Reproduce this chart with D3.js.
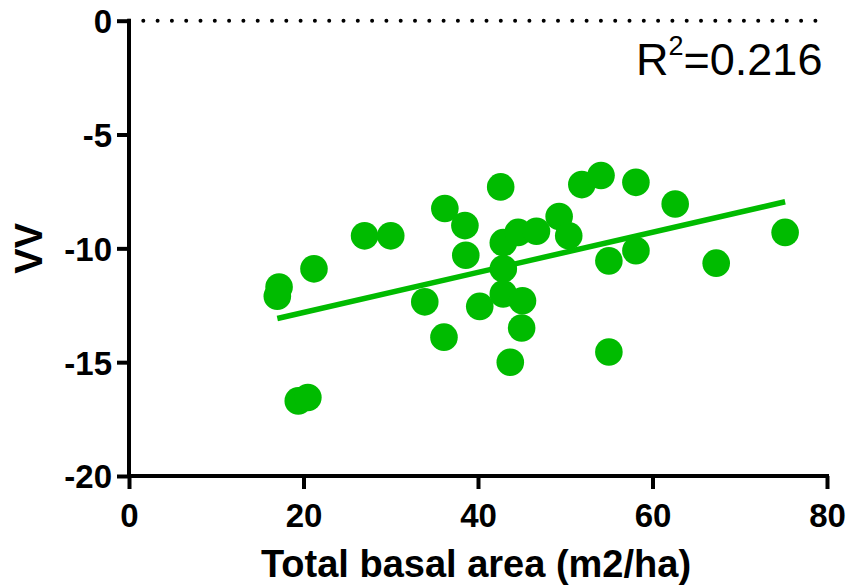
<!DOCTYPE html>
<html>
<head>
<meta charset="utf-8">
<script src="https://cdn.jsdelivr.net/npm/d3@7"></script>
<style>
  html, body { margin: 0; padding: 0; background: #fff; }
  svg { display: block; }
  text { font-family: Arial, "Liberation Sans", Helvetica, sans-serif; }
</style>
</head>
<body>
<svg id="chart" width="852" height="588"></svg>
<script>
// ---- data ----
const basalArea = [17.2, 17.0, 21.2, 27.0, 30.0, 36.2, 38.5, 38.6, 42.6, 33.9, 36.1,
                   40.2, 42.9, 42.9, 42.9, 45.1, 45.0, 43.7, 44.6, 46.7, 49.3, 50.4,
                   19.4, 20.5, 51.9, 54.1, 58.1, 62.6, 75.2, 58.1, 55.0, 67.3, 55.0];
const vvValues  = [-11.7, -12.1, -10.9, -9.45, -9.45, -8.25, -9.0, -10.3, -7.3, -12.35, -13.9,
                   -12.55, -9.75, -10.9, -12.0, -12.3, -13.5, -15.0, -9.3, -9.25, -8.6, -9.45,
                   -16.7, -16.55, -7.2, -6.8, -7.1, -8.05, -9.3, -10.1, -10.55, -10.65, -14.55];
// fitted regression line as drawn: [slope, intercept]
const fitParams = [0.0881, -14.58];
const xTicks = [0, 20, 40, 60, 80];
const yTicks = [0, -5, -10, -15, -20];
const r2Label = "0.216";
const xTitle = "Total basal area (m2/ha)";
const yTitle = "VV";

// ---- layout ----
const svg = d3.select("#chart");
const mLeft = 129, mRight = 827, mTop = 20.7, mBottom = 476;
const green = "#00bb00";

const x = d3.scaleLinear().domain([0, 80]).range([mLeft, mRight]);
const y = d3.scaleLinear().domain([-20, 0]).range([mBottom, mTop]);

// reference dotted line at y = 0
svg.append("line")
  .attr("x1", x(0)).attr("x2", x(80))
  .attr("y1", y(0)).attr("y2", y(0))
  .attr("stroke", "#000").attr("stroke-width", 4)
  .attr("stroke-linecap", "round")
  .attr("stroke-dasharray", "0 14.3");

// axes
const xAxis = d3.axisBottom(x).tickValues(xTicks).tickSize(13).tickPadding(15).tickFormat(d3.format("d"));
const yAxis = d3.axisLeft(y).tickValues(yTicks).tickSize(12).tickPadding(5).tickFormat(d => String(d));

const gx = svg.append("g").attr("transform", `translate(0,${mBottom})`).call(xAxis);
const gy = svg.append("g").attr("transform", `translate(${mLeft},0)`).call(yAxis);

[gx, gy].forEach(g => {
  g.select(".domain").attr("stroke", "#000").attr("stroke-width", 4).attr("stroke-linecap", "square");
  g.selectAll(".tick line").attr("stroke", "#000").attr("stroke-width", 4);
  g.selectAll(".tick text")
    .attr("fill", "#000")
    .style("font-family", "Arial, 'Liberation Sans', sans-serif")
    .style("font-size", "33px")
    .style("font-weight", "bold");
});
gx.select(".domain").attr("d", `M${mLeft},0H${mRight}`);
gy.select(".domain").attr("d", `M0,${mTop}V${mBottom}`);
gy.selectAll(".tick text").attr("dy", "0.36em");

// axis titles
svg.append("text")
  .attr("x", 476).attr("y", 577)
  .attr("text-anchor", "middle")
  .style("font-size", "38px").style("font-weight", "bold")
  .text(xTitle);

svg.append("text")
  .attr("transform", `translate(42,${y(-10)}) rotate(-90)`)
  .attr("text-anchor", "middle")
  .style("font-size", "38px").style("font-weight", "bold")
  .text(yTitle);

// regression line
const xr = d3.extent(basalArea);
svg.append("line")
  .attr("x1", x(xr[0])).attr("y1", y(fitParams[0] * xr[0] + fitParams[1]))
  .attr("x2", x(xr[1])).attr("y2", y(fitParams[0] * xr[1] + fitParams[1]))
  .attr("stroke", green).attr("stroke-width", 5.5);

// points
const pts = basalArea.map((v, i) => ({ x: v, y: vvValues[i] }));
svg.append("g").selectAll("circle").data(pts).join("circle")
  .attr("cx", d => x(d.x)).attr("cy", d => y(d.y))
  .attr("r", 13.8).attr("fill", green);

// R^2 annotation
const r2 = svg.append("text")
  .attr("x", 636).attr("y", 75)
  .style("font-size", "45px").attr("fill", "#000");
r2.append("tspan").text("R");
r2.append("tspan").attr("dy", -20).style("font-size", "27px").text("2");
r2.append("tspan").attr("dy", 20).text("=" + r2Label);
</script>
</body>
</html>
